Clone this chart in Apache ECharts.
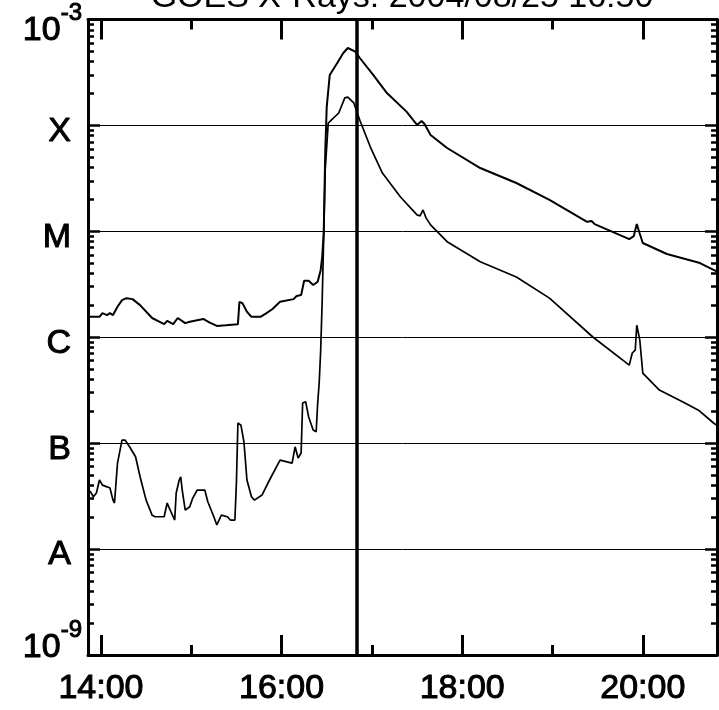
<!DOCTYPE html>
<html>
<head>
<meta charset="utf-8">
<script src="https://cdn.jsdelivr.net/npm/echarts@6/dist/echarts.min.js"></script>
<style>
html,body{margin:0;padding:0;background:#fff;}
#chart{width:719px;height:710px;}
</style>
</head>
<body>
<div id="chart"></div>
<script>
// ---- data (time in minutes after 00:00 UT, flux in W/m^2) ----
const titleText = 'GOES X-Rays: 2004/08/25 16:50';
const xTickLabels = ['14:00', '16:00', '18:00', '20:00'];
const xMinorTickLabels = ['15:00', '17:00', '19:00'];
const yTickLabels = ['10^-9', 'A', 'B', 'C', 'M', 'X', '10^-3'];
const xRangeMinutes = [831.4, 1249.3];
const yRange = [1e-9, 1e-3];
const markerTime = '16:50';

// long channel (1-8 A), upper curve
const longTimes = [831, 839, 841, 844, 846, 848, 849, 851, 854, 857, 861, 866, 874, 879, 882, 884, 888, 891, 892, 896, 899, 908, 912, 917, 923, 931, 932, 934, 937, 940, 946, 950, 954, 959, 968, 970, 973, 975, 978, 981, 984, 986, 987, 988, 989, 990, 992, 997, 1001, 1004, 1009, 1012, 1021, 1030, 1043, 1050, 1053, 1055, 1059, 1070, 1092, 1116, 1138, 1163, 1166, 1168, 1191, 1194, 1196, 1198, 1200, 1216, 1238, 1247, 1249];
const longFlux = [1.56e-6, 1.56e-6, 1.69e-6, 1.62e-6, 1.69e-6, 1.62e-6, 1.56e-6, 1.94e-6, 2.24e-6, 2.34e-6, 2.29e-6, 2.01e-6, 1.52e-6, 1.40e-6, 1.33e-6, 1.43e-6, 1.33e-6, 1.52e-6, 1.56e-6, 1.36e-6, 1.40e-6, 1.49e-6, 1.38e-6, 1.28e-6, 1.30e-6, 1.33e-6, 2.16e-6, 2.10e-6, 1.74e-6, 1.56e-6, 1.56e-6, 1.69e-6, 1.85e-6, 2.16e-6, 2.29e-6, 2.45e-6, 2.50e-6, 3.42e-6, 3.42e-6, 3.11e-6, 3.34e-6, 4.32e-6, 5.75e-6, 9.64e-6, 5.48e-5, 1.49e-4, 2.99e-4, 3.88e-4, 4.83e-4, 5.38e-4, 4.97e-4, 4.33e-4, 2.99e-4, 2.02e-4, 1.35e-4, 1.01e-4, 1.10e-4, 1.03e-4, 8.11e-5, 6.12e-5, 3.96e-5, 2.86e-5, 1.98e-5, 1.23e-5, 1.25e-5, 1.17e-5, 8.45e-6, 9.0e-6, 1.17e-5, 9.5e-6, 7.76e-6, 6.11e-6, 5.02e-6, 4.32e-6, 4.2e-6];

// short channel (0.5-4 A), lower curve
const shortTimes = [831, 833, 835, 837, 839, 841, 844, 846, 848, 849, 850, 851, 854, 856, 859, 863, 866, 870, 874, 876, 882, 884, 886, 889, 890, 892, 893, 894, 896, 899, 901, 904, 909, 911, 915, 917, 920, 924, 926, 929, 930, 931, 933, 935, 937, 940, 942, 947, 952, 959, 967, 969, 971, 973, 974, 976, 978, 981, 983, 984, 985, 986, 987, 988, 989, 991, 993, 998, 1002, 1004, 1008, 1012, 1019, 1027, 1039, 1050, 1052, 1054, 1056, 1059, 1070, 1092, 1116, 1138, 1167, 1191, 1193, 1195, 1196, 1198, 1200, 1211, 1227, 1237, 1247, 1249];
const shortFlux = [3.61e-8, 3.48e-8, 3.12e-8, 3.38e-8, 4.49e-8, 4.02e-8, 3.87e-8, 3.77e-8, 2.90e-8, 2.72e-8, 4.20e-8, 6.49e-8, 1.07e-7, 1.07e-7, 9.24e-8, 7.44e-8, 4.82e-8, 2.90e-8, 2.09e-8, 2.02e-8, 2.02e-8, 2.72e-8, 2.33e-8, 1.88e-8, 3.38e-8, 4.49e-8, 4.82e-8, 3.61e-8, 2.33e-8, 2.51e-8, 3.03e-8, 3.61e-8, 3.61e-8, 2.80e-8, 2.02e-8, 1.69e-8, 2.09e-8, 2.02e-8, 1.88e-8, 1.88e-8, 4.20e-8, 1.55e-7, 1.48e-7, 1.03e-7, 4.49e-8, 3.12e-8, 2.90e-8, 3.24e-8, 4.49e-8, 6.92e-8, 6.49e-8, 9.24e-8, 7.23e-8, 8.07e-8, 2.39e-7, 2.46e-7, 1.77e-7, 1.33e-7, 1.28e-7, 2.39e-7, 3.70e-7, 7.57e-7, 2.24e-6, 8.83e-6, 3.79e-5, 1.05e-4, 1.12e-4, 1.31e-4, 1.82e-4, 1.85e-4, 1.63e-4, 1.12e-4, 6.25e-5, 3.55e-5, 2.11e-5, 1.43e-5, 1.40e-5, 1.59e-5, 1.34e-5, 1.15e-5, 7.98e-6, 5.16e-6, 3.70e-6, 2.34e-6, 1.00e-6, 5.46e-7, 7.10e-7, 7.57e-7, 1.30e-6, 9.42e-7, 4.59e-7, 3.17e-7, 2.44e-7, 2.05e-7, 1.55e-7, 1.48e-7];

// ---- chart ----
const FONT = "'Liberation Sans', Arial, Helvetica, sans-serif";
const toMin = s => { const p = s.split(':').map(Number); return p[0] * 60 + p[1]; };
const majorX = xTickLabels.map(toMin);
const minorX = xMinorTickLabels.map(toMin);
const yMinorTicks = [];
for (let n = Math.log10(yRange[0]); n < Math.log10(yRange[1]); n++) {
  for (let k = 2; k <= 9; k++) yMinorTicks.push(n + Math.log10(k));
}
const black = '#000';
const heavy = { color: black, fontFamily: FONT, fontWeight: 'normal', textBorderColor: black, textBorderWidth: 1 };
const axisLine = { show: true, onZero: false, lineStyle: { color: black, width: 3 } };
const noLine = { show: false };
const tick = (len, w, vals) => {
  const t = { show: true, inside: true, length: len, lineStyle: { color: black, width: w } };
  if (vals) t.customValues = vals;
  return t;
};
const xBase = { type: 'value', min: xRangeMinutes[0], max: xRangeMinutes[1], splitLine: { show: false } };
const yLog = { type: 'log', logBase: 10, min: yRange[0], max: yRange[1], splitNumber: 6 };
const yLin = { type: 'value', min: Math.log10(yRange[0]), max: Math.log10(yRange[1]), splitLine: { show: false } };

const xLabelFmt = v => {
  let best = 0;
  majorX.forEach((m, i) => { if (Math.abs(m - v) < Math.abs(majorX[best] - v)) best = i; });
  return xTickLabels[best];
};
const yLabelOf = v => yTickLabels[Math.round(Math.log10(v) - Math.log10(yRange[0]))] || '';
const isPow = lab => lab.indexOf('10^') === 0;
const letterFmt = v => { const lab = yLabelOf(v); return (lab && !isPow(lab)) ? '{l|' + lab + '}' : ''; };
const powFmt = which => v => {
  const lab = yLabelOf(v);
  return (lab === which) ? '{b|10}{sup|' + lab.slice(3) + '}' : '';
};
const powRich = {
  b: Object.assign({ fontSize: 34, lineHeight: 34, verticalAlign: 'bottom' }, heavy),
  sup: Object.assign({ fontSize: 24, lineHeight: 46, verticalAlign: 'top' }, heavy)
};
const labelOnlyAxis = (fmt, padding) => Object.assign({}, yLog, {
  position: 'left', axisLine: noLine, axisTick: { show: false }, splitLine: { show: false },
  axisLabel: { show: true, formatter: fmt, margin: 6, padding: padding, showMinLabel: true, showMaxLabel: true, hideOverlap: false, rich: powRich }
});

const chart = echarts.init(document.getElementById('chart'), null, { renderer: 'canvas' });
chart.setOption({
  animation: false,
  backgroundColor: '#fff',
  grid: { left: 88, right: 2, top: 19.5, bottom: 55, containLabel: false },
  graphic: [{
    type: 'text', x: 402, y: -2, silent: true,
    style: { text: titleText, fontSize: 34, fontFamily: FONT, fill: black, align: 'center', verticalAlign: 'middle' }
  }],
  xAxis: [
    Object.assign({}, xBase, { position: 'bottom', axisLine: axisLine, axisTick: tick(20, 3, majorX),
      axisLabel: Object.assign({ show: true, customValues: majorX, formatter: xLabelFmt, fontSize: 34, margin: 17 }, heavy) }),
    Object.assign({}, xBase, { position: 'bottom', axisLine: noLine, axisTick: tick(10, 3, minorX), axisLabel: { show: false } }),
    Object.assign({}, xBase, { position: 'top', axisLine: axisLine, axisTick: tick(20, 3, majorX), axisLabel: { show: false } }),
    Object.assign({}, xBase, { position: 'top', axisLine: noLine, axisTick: tick(10, 3, minorX), axisLabel: { show: false } })
  ],
  yAxis: [
    Object.assign({}, yLog, { position: 'left', axisLine: axisLine, axisTick: tick(12, 2.5),
      splitLine: { show: true, lineStyle: { color: black, width: 1 } },
      axisLabel: {
        show: true, formatter: letterFmt, margin: 13, showMinLabel: true, showMaxLabel: true, hideOverlap: false,
        rich: { l: Object.assign({ fontSize: 34, lineHeight: 34, padding: [12, 4, 0, 0] }, heavy) }
      } }),
    Object.assign({}, yLin, { position: 'left', axisLine: noLine, axisTick: tick(6, 2.5, yMinorTicks), axisLabel: { show: false } }),
    Object.assign({}, yLog, { position: 'right', axisLine: axisLine, axisTick: tick(12, 2.5), splitLine: { show: false }, axisLabel: { show: false } }),
    Object.assign({}, yLin, { position: 'right', axisLine: noLine, axisTick: tick(6, 2.5, yMinorTicks), axisLabel: { show: false } }),
    labelOnlyAxis(powFmt(yTickLabels[yTickLabels.length - 1]), [10, 0, 0, 0]),
    labelOnlyAxis(powFmt(yTickLabels[0]), [0, 0, 27, 0])
  ],
  series: [
    {
      name: 'GOES 1-8 A', type: 'line', xAxisIndex: 0, yAxisIndex: 0,
      data: longTimes.map((t, i) => [t, longFlux[i]]),
      showSymbol: false, symbol: 'none', lineStyle: { color: black, width: 2 }, z: 3,
      markLine: {
        silent: true, symbol: ['none', 'none'], label: { show: false },
        lineStyle: { color: black, width: 3.5, type: 'solid' },
        data: [{ xAxis: toMin(markerTime) }]
      }
    },
    {
      name: 'GOES 0.5-4 A', type: 'line', xAxisIndex: 0, yAxisIndex: 0,
      data: shortTimes.map((t, i) => [t, shortFlux[i]]),
      showSymbol: false, symbol: 'none', lineStyle: { color: black, width: 1.7 }, z: 3
    }
  ]
});
</script>
</body>
</html>
